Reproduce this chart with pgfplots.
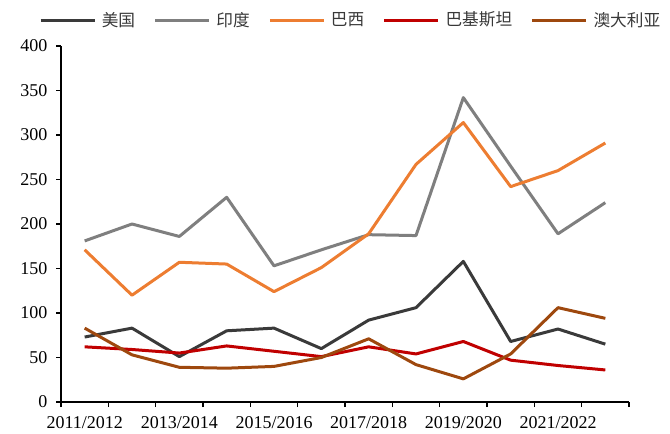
\documentclass[border=0pt]{standalone}
\usepackage{fontspec}
\setmainfont{Liberation Serif}
\newfontfamily\cjk{Noto Sans CJK SC}
\usepackage{pgfplots}
\pgfplotsset{compat=1.18}
\definecolor{cUS}{HTML}{3A3A3A}
\definecolor{cIN}{HTML}{7F7F7F}
\definecolor{cBR}{HTML}{ED7D31}
\definecolor{cPK}{HTML}{C00000}
\definecolor{cAU}{HTML}{9E480E}
\begin{document}
\begin{tikzpicture}
\useasboundingbox (-45.75pt,-23.25pt) rectangle (456.75pt,301.5pt);
\begin{axis}[at={(0,0)}, anchor=south west, scale only axis,
  width=426pt, height=267pt,
  xmin=-0.5, xmax=11.5, ymin=0, ymax=400,
  axis lines=left, axis line style={-, line width=1pt, black},
  xtick={0,2,4,6,8,10},
  xticklabels={2011/2012,2013/2014,2015/2016,2017/2018,2019/2020,2021/2022},
  major x tick style={draw=none},
  minor xtick={-0.5,0.5,...,11.5},
  ytick={0,50,...,400},
  tick align=outside,
  tick style={black, line width=0.8pt},
  major tick length=3.75pt, minor tick length=3.75pt,
  tick label style={font=\fontsize{13.5}{15}\selectfont},
  xticklabel style={yshift=-3.5pt},
  yticklabel style={xshift=-3pt},
  /pgf/number format/assume math mode=true,
  legend columns=5,
  legend style={draw=none, fill=none, at={(0.5,1)}, anchor=center, yshift=19.5pt, xshift=4.5pt,
    font=\cjk\fontsize{12.5}{14}\selectfont, text=black!78,
    /tikz/every odd column/.append style={column sep=2.2pt},
    /tikz/every even column/.append style={column sep=12pt}},
  legend image code/.code={\draw[#1, line width=2.25pt] (0,0) -- (40.5pt,0);},
  every axis plot/.append style={line width=2.25pt, line join=round, no markers},
]
\addplot[color=cUS] coordinates {(0,73) (1,83) (2,51) (3,80) (4,83) (5,60) (6,92) (7,106) (8,158) (9,68) (10,82) (11,65)};
\addlegendentry{美国}
\addplot[color=cIN] coordinates {(0,181) (1,200) (2,186) (3,230) (4,153) (5,171) (6,188) (7,187) (8,342) (9,265) (10,189) (11,224)};
\addlegendentry{印度}
\addplot[color=cBR] coordinates {(0,171) (1,120) (2,157) (3,155) (4,124) (5,151) (6,189) (7,267) (8,314) (9,242) (10,260) (11,291)};
\addlegendentry{巴西}
\addplot[color=cPK] coordinates {(0,62) (1,59) (2,55) (3,63) (4,57) (5,51) (6,62) (7,54) (8,68) (9,47) (10,41) (11,36)};
\addlegendentry{巴基斯坦}
\addplot[color=cAU] coordinates {(0,83) (1,53) (2,39) (3,38) (4,40) (5,50) (6,71) (7,42) (8,26) (9,54) (10,106) (11,94)};
\addlegendentry{澳大利亚}
\end{axis}
\end{tikzpicture}
\end{document}
